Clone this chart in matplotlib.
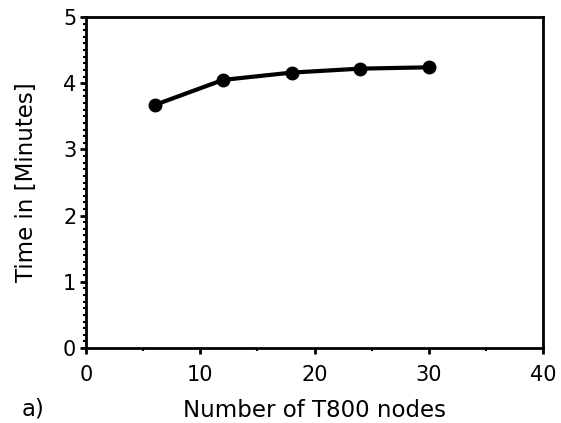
import matplotlib
matplotlib.use("Agg")
import matplotlib.pyplot as plt
from matplotlib.ticker import MultipleLocator

nodes = [6, 12, 18, 24, 30]
minutes = [3.67, 4.05, 4.16, 4.22, 4.24]

plt.rcParams['font.family'] = ['DejaVu Sans']

fig = plt.figure(figsize=(5.61, 4.23), dpi=100)
ax = fig.add_axes([86 / 561, 1 - 348 / 423, (543 - 86) / 561, (348 - 17) / 423])

ax.plot(nodes, minutes, 'k-', linewidth=3, marker='o', markersize=9)

ax.set_xlim(0, 40)
ax.set_ylim(0, 5)
ax.xaxis.set_major_locator(MultipleLocator(10))
ax.xaxis.set_minor_locator(MultipleLocator(5))
ax.yaxis.set_major_locator(MultipleLocator(1))
ax.yaxis.set_minor_locator(MultipleLocator(0.1))

for s in ax.spines.values():
    s.set_linewidth(2)
ax.tick_params(which='major', direction='out', length=4, width=2, labelsize=15)
ax.tick_params(axis='x', which='major', pad=8)
ax.tick_params(axis='y', which='major', pad=3)
ax.tick_params(which='minor', direction='out', length=2, width=1.5)

ax.set_xlabel('Number of T800 nodes', fontsize=16.5, labelpad=10)
ax.set_ylabel('Time in [Minutes]', fontsize=16.5, labelpad=18)
fig.text(22 / 561, 1 - 409 / 423, 'a)', fontsize=16.5, va='center')

fig.savefig('out.png', dpi=100)
